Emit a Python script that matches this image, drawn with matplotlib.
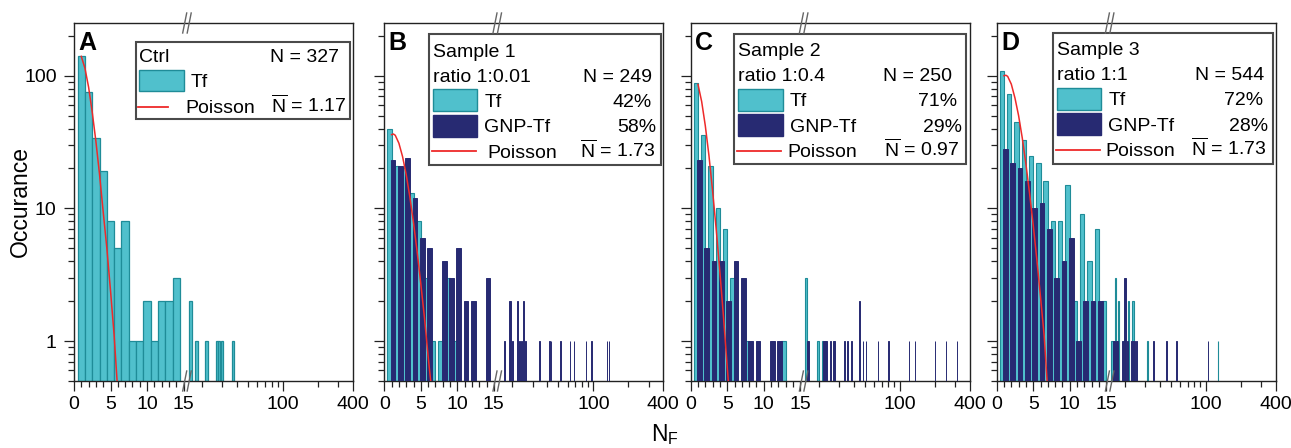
import numpy as np
import matplotlib
matplotlib.use('Agg')
import matplotlib.pyplot as plt
from matplotlib.patches import Rectangle
from matplotlib.lines import Line2D
from matplotlib.ticker import NullFormatter

plt.rcParams['font.family'] = ['Liberation Sans', 'DejaVu Sans']
plt.rcParams['mathtext.fontset'] = 'custom'
plt.rcParams['mathtext.rm'] = 'Liberation Sans'
plt.rcParams['mathtext.it'] = 'Liberation Sans:italic'

# ---- data ----
letters = ['A', 'B', 'C', 'D']
titles = ['Ctrl', 'Sample 1', 'Sample 2', 'Sample 3']
ratios = [None, 'ratio 1:0.01', 'ratio 1:0.4', 'ratio 1:1']
totals = ['N = 327', 'N = 249', 'N = 250', 'N = 544']
tf_pct = [None, '42%', '71%', '72%']
gnp_pct = [None, '58%', '29%', '28%']
means = ['1.17', '1.73', '0.97', '1.73']

a_tf_n = [1, 2, 3, 4, 5, 6, 7, 8, 9, 10, 11, 12, 13, 14, 16, 18, 22, 27, 28, 30, 37]
a_tf = [141, 76, 34, 19, 8, 5, 8, 1, 1, 2, 1, 2, 2, 3, 2, 1, 1, 1, 1, 1, 1]

b_tf_n = [1, 2, 3, 4, 5, 6, 7, 8, 9, 10]
b_tf = [40, 21, 20, 13, 8, 3, 1, 1, 3, 1]
b_gnp_n = [1, 2, 3, 4, 5, 6, 8, 9, 10, 11, 12, 14, 17, 19, 20, 22, 23, 24, 25, 26,
           34, 42, 43, 52, 63, 68, 86, 96, 131, 136]
b_gnp = [23, 21, 24, 12, 6, 5, 4, 3, 5, 2, 2, 3, 1, 2, 1, 2, 1, 1, 2, 1,
         1, 1, 1, 1, 1, 1, 1, 1, 1, 1]

c_tf_n = [1, 2, 3, 4, 5, 6, 8, 13, 16, 20, 22]
c_tf = [88, 36, 21, 10, 7, 3, 1, 1, 3, 1, 1]
c_gnp_n = [1, 2, 3, 4, 5, 6, 7, 8, 9, 11, 12, 16, 22, 23, 25, 27, 33, 35, 38, 45,
           48, 51, 65, 80, 120, 136, 201, 252, 311]
c_gnp = [23, 5, 4, 4, 2, 4, 3, 1, 1, 1, 1, 1, 1, 1, 1, 1, 1, 1, 1, 2,
         1, 1, 1, 1, 1, 1, 1, 1, 1]

d_tf_n = [1, 2, 3, 4, 5, 6, 7, 8, 9, 10, 11, 12, 13, 14, 15, 16, 17, 18, 20, 22, 24, 32, 128]
d_tf = [108, 73, 45, 33, 25, 22, 16, 8, 8, 15, 2, 9, 4, 7, 2, 1, 3, 2, 1, 2, 2, 1, 1]
d_gnp_n = [1, 2, 3, 4, 5, 6, 7, 8, 9, 10, 11, 12, 13, 14, 16, 17, 19, 20, 21, 23, 24, 25,
           35, 46, 56, 105]
d_gnp = [28, 22, 20, 16, 10, 11, 7, 3, 4, 6, 1, 2, 2, 2, 1, 1, 1, 3, 1, 1, 1, 1,
         1, 1, 1, 1]

a_pois_x = [1, 1.5, 2, 2.5, 3, 3.5, 4, 4.5, 5, 5.5, 5.9]
a_pois_y = [140, 114, 82, 53, 32, 18, 9.4, 5, 2.4, 1.1, 0.5]
b_pois_x = [1, 1.25, 1.5, 2, 2.5, 3, 3.5, 4, 4.5, 5, 5.5, 6, 6.35]
b_pois_y = [36, 36.4, 35.6, 31, 24.6, 18, 12.2, 7.8, 4.7, 2.7, 1.5, 0.77, 0.5]
c_pois_x = [1, 1.5, 2, 2.5, 3, 3.5, 4, 4.5, 5, 5.15]
c_pois_y = [86, 64, 42, 25, 13.5, 6.9, 3.3, 1.5, 0.64, 0.5]
d_pois_x = [1, 1.25, 1.5, 2, 2.5, 3, 3.5, 4, 4.5, 5, 5.5, 6, 6.5, 6.9]
d_pois_y = [100, 101, 99, 86.5, 68, 50, 34, 21.6, 13, 7.5, 4.1, 2.15, 1.1, 0.5]

CYAN = '#50C0CC'
TEAL = '#1F8C98'
NAVY = '#272A72'
RED = '#EE2A2A'

# broken x axis: linear 0-15, then log 15-400
BREAK, GAP, DEC = 15.0, 0.52, 15.91


def fwd(x):
    x = np.asarray(x, dtype=float)
    return np.where(x <= BREAK, x,
                    BREAK + GAP + DEC * np.log10(np.maximum(x, BREAK) / BREAK))


def inv(u):
    u = np.asarray(u, dtype=float)
    return np.where(u <= BREAK, u,
                    BREAK * 10 ** ((np.maximum(u, BREAK + GAP) - BREAK - GAP) / DEC))


fig = plt.figure(figsize=(12.91, 4.48), dpi=100)
W, H = 1291, 448
AW, AH = 279, 358
lefts = [74, 384.3, 690.7, 996.7]
axes = [fig.add_axes([l / W, (H - 381) / H, AW / W, AH / H]) for l in lefts]


def P(x, y):
    return x / AW, 1 - y / AH


def txt(ax, x, y, s, ha='left', **kw):
    ax.text(*P(x, y), s, transform=ax.transAxes, ha=ha, va='baseline',
            fontsize=14, zorder=7, **kw)


def swatch(ax, x0, y0, x1, y1, fc, ec):
    ax.add_patch(Rectangle(P(x0, y1), (x1 - x0) / AW, (y1 - y0) / AH,
                           transform=ax.transAxes, fc=fc, ec=ec, lw=1, zorder=7))


def box(ax, x0, y0, x1, y1):
    ax.add_patch(Rectangle(P(x0, y1), (x1 - x0) / AW, (y1 - y0) / AH,
                           transform=ax.transAxes, fc='white', ec='#4a4a4a',
                           lw=1.5, zorder=6))


def pline(ax, x0, x1, y):
    ax.add_line(Line2D([x0 / AW, x1 / AW], [1 - y / AH] * 2, transform=ax.transAxes,
                       color=RED, lw=1.3, zorder=7))


def breakmarks(ax):
    for yy in (0, AH):
        for xc in (110.7, 115.2):
            ax.add_line(Line2D([(xc - 2) / AW, (xc + 2) / AW],
                               [1 - (yy + 10) / AH, 1 - (yy - 10) / AH],
                               transform=ax.transAxes, color='#666666', lw=1,
                               clip_on=False, zorder=8))


def nbar(m):
    return r'$\overline{\mathrm{N}}$ = ' + m


series = [
    (a_tf_n, a_tf, None, None, a_pois_x, a_pois_y),
    (b_tf_n, b_tf, b_gnp_n, b_gnp, b_pois_x, b_pois_y),
    (c_tf_n, c_tf, c_gnp_n, c_gnp, c_pois_x, c_pois_y),
    (d_tf_n, d_tf, d_gnp_n, d_gnp, d_pois_x, d_pois_y),
]

for i, ax in enumerate(axes):
    tn, tv, gn, gv, px, py = series[i]
    ax.set_xscale('function', functions=(fwd, inv))
    ax.set_yscale('log')
    if gn is None:
        ax.bar(tn, tv, width=1.0, color=CYAN, edgecolor=TEAL, lw=0.9, zorder=2)
    else:
        ax.bar(np.array(tn) - 0.3, tv, width=0.6, color=CYAN, edgecolor=TEAL,
               lw=0.8, zorder=2)
        ax.bar(np.array(gn) + 0.2, gv, width=0.65, color=NAVY, edgecolor=NAVY,
               lw=0.7, zorder=3)
    ax.plot(px, py, color=RED, lw=1.1, zorder=4)

    ax.set_xlim(0, 400)
    ax.set_ylim(0.5, 250)
    ax.set_xticks([0, 5, 10, 15, 100, 400], labels=['0', '5', '10', '15', '100', '400'])
    ax.set_xticks(list(range(1, 15)) + [20, 30, 40, 50, 60, 70, 80, 90, 200, 300],
                  minor=True)
    ax.set_yticks([1, 10, 100], labels=['1', '10', '100'] if i == 0 else [])
    ax.yaxis.set_minor_formatter(NullFormatter())
    ax.tick_params(which='major', direction='out', length=7.5, width=0.9,
                   labelsize=14, color='#222222')
    ax.tick_params(which='minor', direction='out', length=4, width=0.9,
                   color='#222222')
    ax.tick_params(axis='x', pad=3)
    ax.tick_params(axis='y', pad=5)
    for s in ax.spines.values():
        s.set_linewidth(1.0)
        s.set_color('#222222')
    breakmarks(ax)

    ax.text(*P(4.5, 7.7), letters[i], transform=ax.transAxes, ha='left', va='top',
            fontsize=18, fontweight='bold', zorder=7)

# legends
ax = axes[0]
box(ax, 61.7, 18.7, 276, 96.3)
txt(ax, 65.3, 39.3, titles[0])
txt(ax, 265.3, 39.3, totals[0], 'right')
swatch(ax, 65, 47, 109.7, 68, CYAN, TEAL)
txt(ax, 116.7, 64.3, 'Tf')
pline(ax, 64.3, 93.7, 83.7)
txt(ax, 111.7, 89.7, 'Poisson')
txt(ax, 272.7, 89.7, nbar(means[0]), 'right')

specs = [
    # box, text x, label x, swatch x, line x, right cols, row baselines
    (1, (45, 11.3, 276.4, 142), 48.4, 100, (49, 93), (48, 92), 103.4,
     (267.4, 267.4, 271.7, 270.7), (33.7, 58.7, 83.7, 109.3, 134.7),
     ((66.3, 87.7), (92, 113.7)), 128),
    (2, (43.6, 11.3, 275, 141.3), 47.6, 99.3, (47.6, 92), (46.6, 90), 96.6,
     (261, 266, 271, 268.6), (33, 58, 83, 108.7, 133.7),
     ((66, 87.7), (91, 112.7)), 127.7),
    (3, (56.6, 10.3, 276.6, 141), 60, 111.6, (60.6, 104.6), (59.3, 103.3), 109,
     (267.6, 266.6, 271.6, 270), (32, 57, 82.3, 107.7, 133),
     ((65.3, 87), (90.3, 112)), 127),
]
for k, bx, tx, lx, sx, lnx, px_, rc, rows, sy, ly in specs:
    ax = axes[k]
    box(ax, *bx)
    txt(ax, tx, rows[0], titles[k])
    txt(ax, tx, rows[1], ratios[k])
    txt(ax, rc[0], rows[1], totals[k], 'right')
    swatch(ax, sx[0], sy[0][0], sx[1], sy[0][1], CYAN, TEAL)
    txt(ax, lx, rows[2], 'Tf')
    txt(ax, rc[1], rows[2], tf_pct[k], 'right')
    swatch(ax, sx[0], sy[1][0], sx[1], sy[1][1], NAVY, NAVY)
    txt(ax, lx, rows[3], 'GNP-Tf')
    txt(ax, rc[2], rows[3], gnp_pct[k], 'right')
    pline(ax, lnx[0], lnx[1], ly)
    txt(ax, px_, rows[4], 'Poisson')
    txt(ax, rc[3], rows[4], nbar(means[k]), 'right')

fig.text(20 / W, 1 - 201.7 / H, 'Occurance', rotation=90, ha='center', va='center',
         fontsize=16.5)
fig.text(651 / W, 1 - 441 / H, r'N$_\mathrm{F}$', ha='left', va='baseline', fontsize=16.5)

fig.savefig('out.png', dpi=100)
